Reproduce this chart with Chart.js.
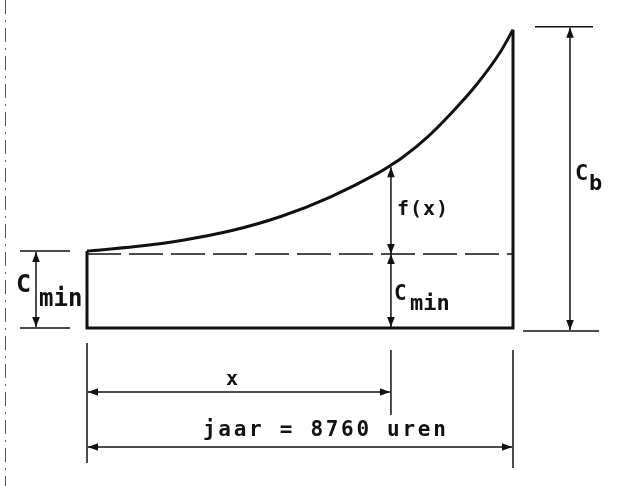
<!DOCTYPE html>
<html>
<head>
<meta charset="utf-8">
<script src="https://cdn.jsdelivr.net/npm/chart.js@4.4.1/dist/chart.umd.min.js"></script>
<style>
  html, body { margin: 0; padding: 0; background: #fff; }
  canvas { display: block; }
</style>
</head>
<body>
<canvas id="duurkromme" width="618" height="486"></canvas>
<script>
// uren in het jaar (x) en kosten (y, in eenheden van Cmin)
const hours = [0, 1000, 2000, 3000, 4000, 5000, 6000, 6250, 6500, 7000, 7500, 8000, 8500, 8760];
const costs = [1.04, 1.10, 1.19, 1.32, 1.51, 1.77, 2.10, 2.20, 2.31, 2.58, 2.91, 3.28, 3.73, 4.03];
const yearHours = 8760;
const cMin = 1;
const cB = costs[costs.length - 1];
const markHour = 6250; // de getekende x
const labels = {
  cmin: ['C', 'min'],
  cb: ['C', 'b'],
  fx: 'f(x)',
  x: 'x',
  year: 'jaar = 8760 uren'
};

const ink = '#111';
const mono = '"DejaVu Sans Mono", "Liberation Mono", monospace';

function arrowHead(ctx, x, y, dx, dy) {
  const len = 10, half = 3.8;
  const px = -dy, py = dx;
  ctx.beginPath();
  ctx.moveTo(x, y);
  ctx.lineTo(x - dx * len + px * half, y - dy * len + py * half);
  ctx.lineTo(x - dx * len - px * half, y - dy * len - py * half);
  ctx.closePath();
  ctx.fill();
}

// maatlijn met pijlpunten aan beide einden
function dimLine(ctx, x1, y1, x2, y2) {
  ctx.beginPath();
  ctx.moveTo(x1, y1);
  ctx.lineTo(x2, y2);
  ctx.stroke();
  const l = Math.hypot(x2 - x1, y2 - y1);
  const dx = (x2 - x1) / l, dy = (y2 - y1) / l;
  arrowHead(ctx, x2, y2, dx, dy);
  arrowHead(ctx, x1, y1, -dx, -dy);
}

function line(ctx, x1, y1, x2, y2) {
  ctx.beginPath();
  ctx.moveTo(x1, y1);
  ctx.lineTo(x2, y2);
  ctx.stroke();
}

const annotations = {
  id: 'annotations',
  afterDatasetsDraw(chart) {
    const ctx = chart.ctx;
    const xs = chart.scales.x, ys = chart.scales.y;
    const X0 = xs.getPixelForValue(0);
    const X1 = xs.getPixelForValue(yearHours);
    const XM = xs.getPixelForValue(markHour);
    const Y0 = ys.getPixelForValue(0);
    const YC = ys.getPixelForValue(cMin);
    const YS = ys.getPixelForValue(costs[0]);
    const YT = ys.getPixelForValue(cB);
    const YF = ys.getPixelForValue(costs[hours.indexOf(markHour)]);

    ctx.save();
    ctx.strokeStyle = ink;
    ctx.fillStyle = ink;
    ctx.lineWidth = 1.5;

    // randje van de scan links
    ctx.save();
    ctx.strokeStyle = '#555';
    ctx.lineWidth = 1;
    ctx.setLineDash([14, 6, 2, 6]);
    line(ctx, 5.5, 0, 5.5, 486);
    ctx.restore();

    // Cmin links
    line(ctx, X0 - 67, YS, X0 - 17, YS);
    line(ctx, X0 - 67, Y0, X0 - 17, Y0);
    dimLine(ctx, X0 - 51, YS + 1, X0 - 51, Y0 - 1);

    // Cb rechts
    line(ctx, X1 + 22, YT - 3, X1 + 80, YT - 3);
    line(ctx, X1 + 10, Y0 + 3, X1 + 86, Y0 + 3);
    dimLine(ctx, X1 + 57, YT - 2, X1 + 57, Y0 + 2);

    // f(x) en Cmin bij x
    dimLine(ctx, XM, YF + 2, XM, YC);
    dimLine(ctx, XM, YC, XM, Y0 - 1);

    // hulplijnen onder
    line(ctx, X0, Y0 + 15, X0, Y0 + 135);
    line(ctx, XM, Y0 + 22, XM, Y0 + 87);
    line(ctx, X1, Y0 + 22, X1, Y0 + 140);
    dimLine(ctx, X0 + 1, Y0 + 64, XM - 1, Y0 + 64);
    dimLine(ctx, X0 + 1, Y0 + 119, X1 - 1, Y0 + 119);

    // teksten
    ctx.textBaseline = 'alphabetic';
    ctx.textAlign = 'left';
    ctx.font = 'bold 25px ' + mono;
    ctx.fillText(labels.cmin[0], X0 - 71, Y0 - 36);
    ctx.font = 'bold 24px ' + mono;
    ctx.fillText(labels.cmin[1], X0 - 48, Y0 - 22);

    ctx.font = 'bold 21px ' + mono;
    ctx.fillText(labels.cmin[0], XM + 3, Y0 - 28);
    ctx.font = 'bold 22px ' + mono;
    ctx.fillText(labels.cmin[1], XM + 19, Y0 - 18);

    ctx.font = 'bold 20px ' + mono;
    ctx.letterSpacing = '1px';
    ctx.fillText(labels.fx, XM + 6, YF + 50);
    ctx.letterSpacing = '0px';

    ctx.font = 'bold 22px ' + mono;
    ctx.fillText(labels.cb[0], X1 + 62, Y0 - 148);
    ctx.fillText(labels.cb[1], X1 + 76, Y0 - 138);

    ctx.font = 'bold 20px ' + mono;
    ctx.fillText(labels.x, X0 + 139, Y0 + 57);

    ctx.font = 'bold 21px ' + mono;
    ctx.letterSpacing = '2.7px';
    ctx.fillText(labels.year, X0 + 116, Y0 + 108);
    ctx.restore();
  }
};

new Chart(document.getElementById('duurkromme').getContext('2d'), {
  type: 'line',
  data: {
    datasets: [{
      label: 'kosten',
      data: hours.map((h, i) => ({ x: h, y: costs[i] })),
      borderColor: ink,
      borderWidth: 3,
      pointRadius: 0,
      cubicInterpolationMode: 'monotone',
      clip: false
    }, {
      label: 'omtrek',
      data: [
        { x: 0, y: costs[0] },
        { x: 0, y: 0 },
        { x: yearHours, y: 0 },
        { x: yearHours, y: cB }
      ],
      borderColor: ink,
      borderWidth: 3,
      pointRadius: 0,
      tension: 0,
      clip: false
    }, {
      label: 'Cmin',
      data: [{ x: 0, y: cMin }, { x: yearHours, y: cMin }],
      borderColor: ink,
      borderWidth: 1.4,
      borderDash: [34, 8],
      pointRadius: 0,
      clip: false
    }]
  },
  options: {
    responsive: false,
    animation: false,
    layout: { padding: { left: 87, right: 105, top: 32, bottom: 158 } },
    plugins: {
      legend: { display: false },
      tooltip: { enabled: false }
    },
    scales: {
      x: { type: 'linear', min: 0, max: yearHours, display: false },
      y: { min: 0, max: 4, display: false }
    }
  },
  plugins: [annotations]
});
</script>
</body>
</html>
